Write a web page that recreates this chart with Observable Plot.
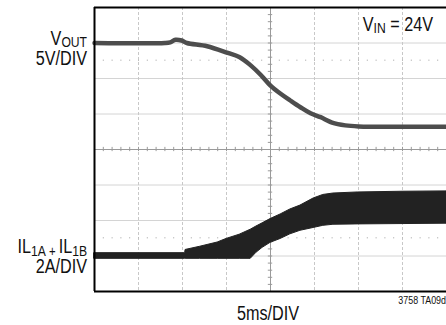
<!DOCTYPE html>
<html>
<head>
<meta charset="utf-8">
<script src="https://cdn.jsdelivr.net/npm/d3@7"></script>
<script src="https://cdn.jsdelivr.net/npm/@observablehq/plot@0.6"></script>
<style>
  html, body { margin: 0; padding: 0; background: #fff; }
  #chart svg { display: block; }
</style>
</head>
<body>
<div id="chart"></div>
<script>
// Time axis in divisions (5ms/DIV), vertical in divisions
const voutT = [0, 1.6, 1.72, 1.84, 1.98, 2.1, 2.56, 3.03, 3.3, 3.55, 3.78, 4.0, 4.23, 4.45, 4.68, 4.91, 5.14, 5.4, 5.7, 6.0, 7.0, 8.0];
const voutV = [3.0, 3.0, 3.02, 3.09, 3.07, 3.0, 2.91, 2.72, 2.6, 2.37, 2.1, 1.80, 1.57, 1.38, 1.19, 1.02, 0.91, 0.76, 0.68, 0.65, 0.64, 0.64];

const ilT  = [0, 2.06, 2.07, 2.4, 2.8, 3.0, 3.3, 3.55, 3.68, 3.82, 4.0, 4.23, 4.45, 4.68, 4.98, 5.2, 5.43, 5.98, 7.0, 8.0];
const ilHi = [-2.92, -2.92, -2.83, -2.74, -2.62, -2.52, -2.40, -2.26, -2.17, -2.08, -1.96, -1.83, -1.69, -1.58, -1.38, -1.28, -1.24, -1.21, -1.19, -1.18];
const ilLo = [-3.08, -3.08, -3.08, -3.08, -3.08, -3.08, -3.08, -3.08, -2.91, -2.77, -2.63, -2.52, -2.39, -2.29, -2.21, -2.15, -2.12, -2.11, -2.10, -2.09];

const xGrid = [1, 2, 3, 5, 6, 7];
const yGrid = [-3, -2, -1, 1, 2, 3];
const markerRows = [2.5, -2.5];
const xTicks = d3.range(0, 8.001, 0.2);
const yTicks = d3.range(-4, 4.001, 0.2);

const labelVout = [["V", 20, 0], ["OUT", 15, 2]];
const labelVoutScale = "5V/DIV";
const labelIL = [["IL", 20, 0], ["1A", 15, 3], [" + ", 14, 0], ["IL", 20, -3], ["1B", 15, 3]];
const labelILScale = "2A/DIV";
const labelVin = [["V", 20, 0], ["IN", 15, 2], [" = 24V", 20, -2]];
const labelTime = "5ms/DIV";
const labelCode = "3758 TA09d";

const FONT = "'Liberation Sans', Arial, sans-serif";
const NARROW = 0.81;

const vout = voutT.map((t, i) => ({t, v: voutV[i]}));
const il = ilT.map((t, i) => ({t, lo: ilLo[i], hi: ilHi[i]}));
const markerDots = markerRows.flatMap(r => xTicks.map(t => ({t, r})));

function richText(parts, px, py, anchor) {
  const ns = "http://www.w3.org/2000/svg";
  const text = document.createElementNS(ns, "text");
  text.setAttribute("x", 0);
  text.setAttribute("y", 0);
  text.setAttribute("transform", `translate(${px},${py}) scale(${NARROW},1)`);
  text.setAttribute("text-anchor", anchor);
  text.setAttribute("font-family", FONT);
  text.setAttribute("fill", "#111");
  for (const [s, size, dy] of parts) {
    const ts = document.createElementNS(ns, "tspan");
    ts.setAttribute("font-size", size);
    ts.setAttribute("dy", dy);
    ts.textContent = s;
    text.appendChild(ts);
  }
  return text;
}

function labels(index, scales) {
  const ns = "http://www.w3.org/2000/svg";
  const g = document.createElementNS(ns, "g");
  const x = scales.x, y = scales.y;
  g.appendChild(richText(labelVout, x(0) - 7, y(3) + 2, "end"));
  g.appendChild(richText([[labelVoutScale, 20, 0]], x(0) - 7, y(3) + 22, "end"));
  g.appendChild(richText(labelIL, x(0) - 7, y(-3) - 3, "end"));
  g.appendChild(richText([[labelILScale, 20, 0]], x(0) - 7, y(-3) + 17.5, "end"));
  g.appendChild(richText(labelVin, x(8) - 13, y(4) + 24, "end"));
  g.appendChild(richText([[labelTime, 20, 0]], x(4) - 2, y(-4) + 28.5, "middle"));
  g.appendChild(richText([[labelCode, 11, 0]], x(8), y(-4) + 12.5, "end"));
  return g;
}

const chart = Plot.plot({
  width: 446,
  height: 325,
  marginLeft: 94,
  marginRight: 0,
  marginTop: 7,
  marginBottom: 34,
  x: {domain: [0, 8], axis: null},
  y: {domain: [-4, 4], axis: null},
  style: {background: "#fff", fontFamily: FONT},
  marks: [
    Plot.ruleY(yGrid, {stroke: "#d4d4d4", strokeWidth: 1}),
    Plot.ruleX(xGrid, {stroke: "#c8c8c8", strokeWidth: 1, strokeDasharray: "3,2"}),
    Plot.ruleX(markerDots, {x: "t", y1: d => d.r - 0.02, y2: d => d.r + 0.02, stroke: "#bbb", strokeWidth: 1}),
    Plot.ruleX([4], {stroke: "#9a9a9a", strokeWidth: 1}),
    Plot.ruleY([0], {stroke: "#9a9a9a", strokeWidth: 1}),
    Plot.ruleX(xTicks, {y1: -0.06, y2: 0.06, stroke: "#9a9a9a", strokeWidth: 1}),
    Plot.ruleY(yTicks, {x1: 4 - 0.05, x2: 4 + 0.05, stroke: "#9a9a9a", strokeWidth: 1}),
    Plot.areaY(il, {x: "t", y1: "lo", y2: "hi", fill: "#222", stroke: "#222", strokeWidth: 1}),
    Plot.line(vout, {x: "t", y: "v", stroke: "#4d4d4d", strokeWidth: 4.5, curve: "catmull-rom"}),
    Plot.ruleX([0], {stroke: "#000", strokeWidth: 2}),
    Plot.ruleY([-4, 4], {stroke: "#000", strokeWidth: 2}),
    labels
  ]
});
document.getElementById("chart").appendChild(chart);
</script>
</body>
</html>
